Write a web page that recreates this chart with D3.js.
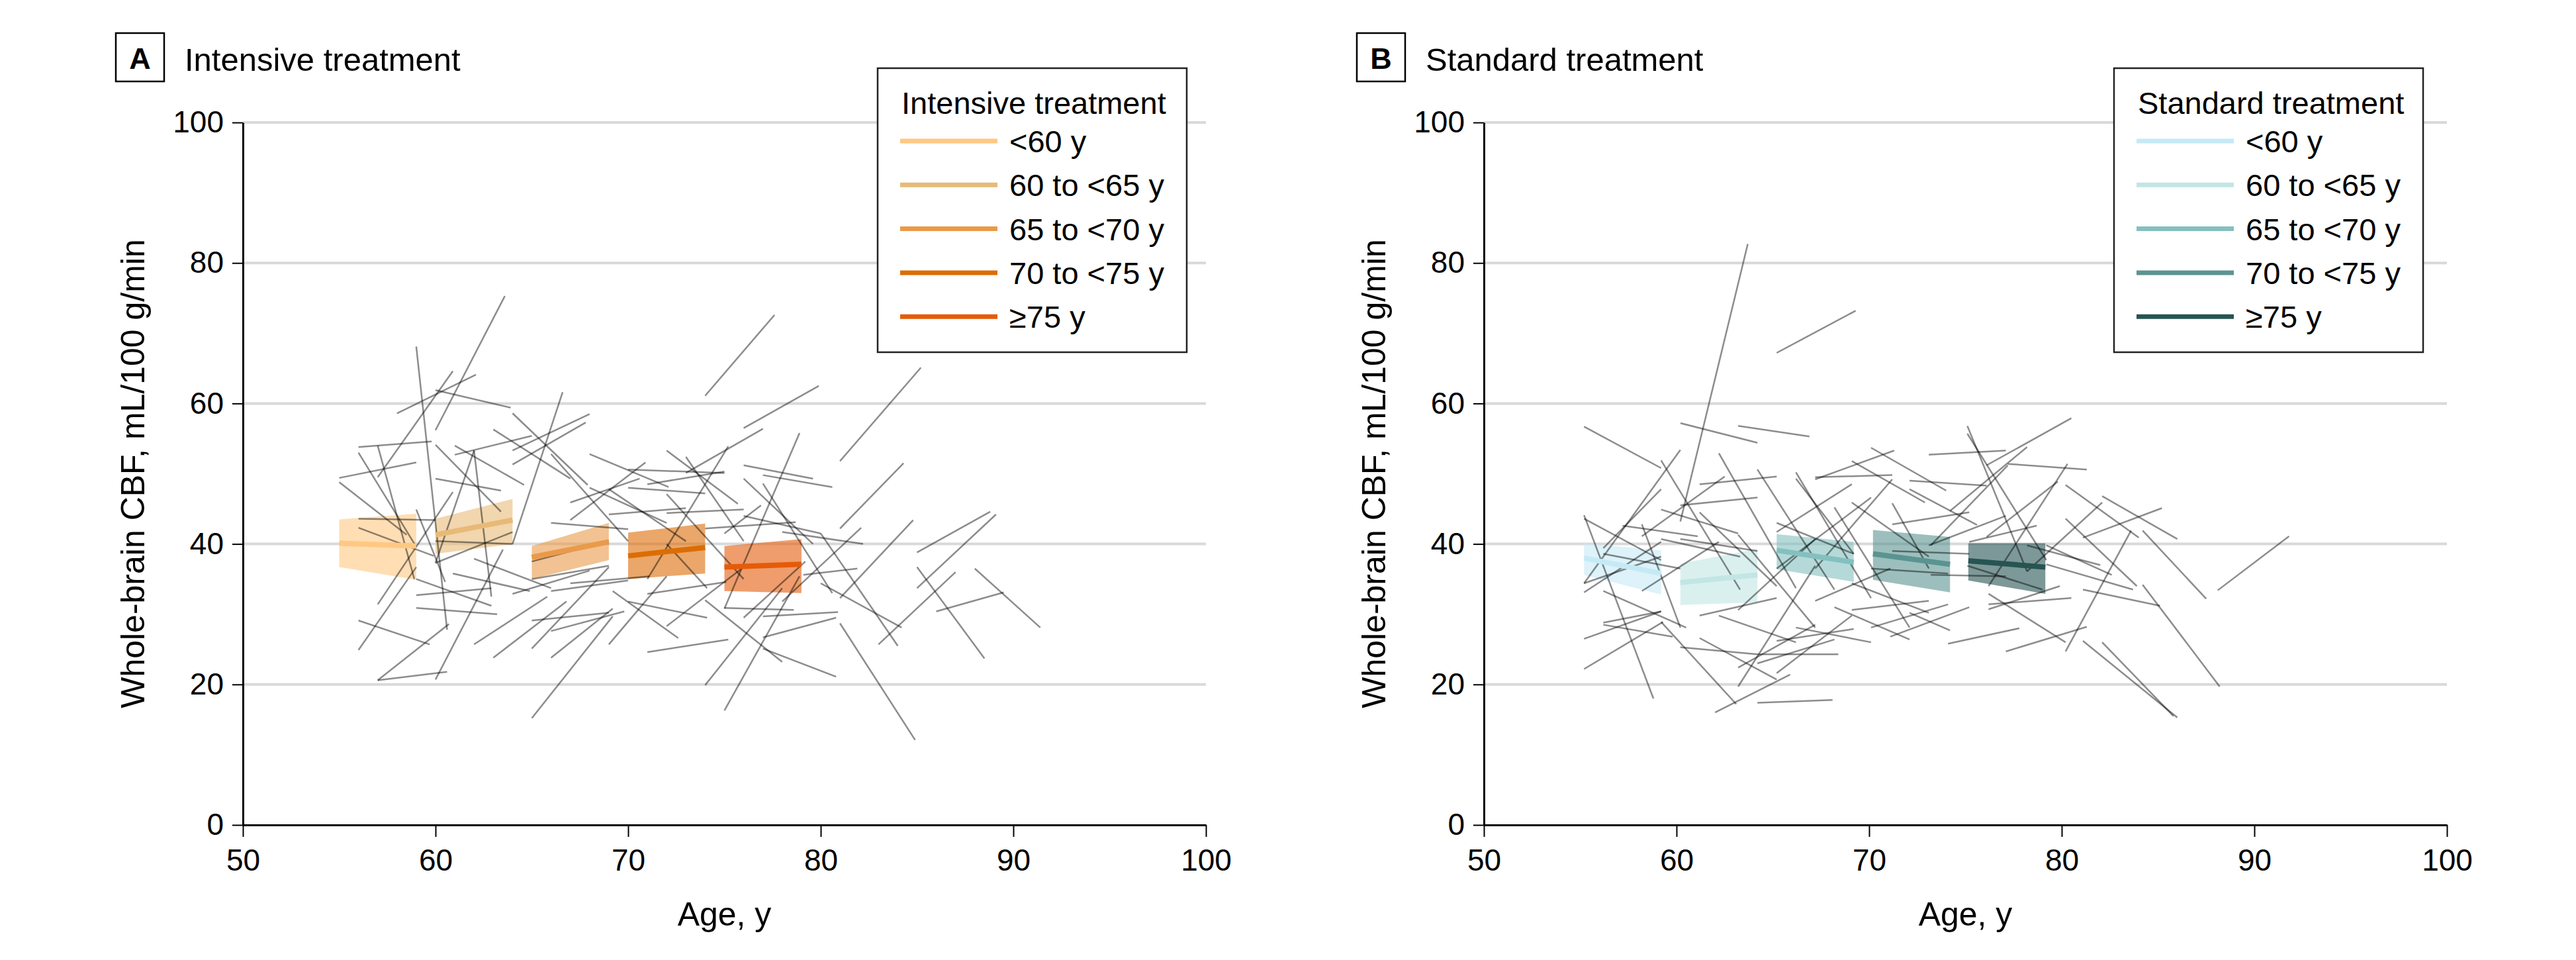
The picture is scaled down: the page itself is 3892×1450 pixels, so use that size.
<!DOCTYPE html>
<html>
<head>
<meta charset="utf-8">
<script src="https://cdn.jsdelivr.net/npm/d3@7"></script>
<style>
    body { margin: 0; background: #fff; }
    text { font-family: "Liberation Sans", Arial, sans-serif; fill: #000; }
</style>
</head>
<body>
<svg id="chart"></svg>
<script>
// age groups shown in both legends
let ageGroups = ["<60 y", "60 to <65 y", "65 to <70 y", "70 to <75 y", "\u226575 y"];
let xTicks = [50, 60, 70, 80, 90, 100];
let yTicks = [0, 20, 40, 60, 80, 100];

// fitted line + CI band per age group: [age0, age1, fit0, fit1, lo0, lo1, hi0, hi1]
let intensiveFits = [
    [55.0, 59.0, 40.1, 39.7, 36.7, 34.9, 43.5, 44.3],
    [60.0, 64.0, 41.3, 43.4, 38.6, 40.0, 43.6, 46.4],
    [65.0, 69.0, 38.1, 40.3, 35.0, 37.7, 39.7, 43.0],
    [70.0, 74.0, 38.3, 39.5, 35.0, 35.8, 41.6, 42.9],
    [75.0, 79.0, 36.7, 37.1, 33.3, 33.0, 39.7, 40.7]
];
let standardFits = [
    [55.2, 59.2, 38.0, 35.8, 35.6, 32.8, 40.1, 39.1],
    [60.2, 64.2, 34.5, 35.6, 31.3, 31.7, 37.2, 39.3],
    [65.2, 69.2, 39.1, 37.4, 36.4, 34.6, 41.4, 40.3],
    [70.2, 74.2, 38.6, 37.1, 34.9, 33.1, 42.0, 41.0],
    [75.15, 79.15, 37.6, 36.7, 34.8, 32.9, 40.1, 40.1]
];

// individual participants: [baseline age, baseline CBF, follow-up age, follow-up CBF]
let intensiveSubjects = [
    [60.0, 56.2, 63.6, 75.3], [59.0, 68.1, 60.6, 27.8], [57.0, 49.5, 60.9, 64.6], [58.0, 58.6, 62.1, 64.1],
    [60.0, 61.9, 63.9, 59.4], [74.0, 61.1, 77.6, 72.6], [64.0, 40.0, 66.6, 61.6], [56.0, 53.8, 59.8, 54.6],
    [55.0, 49.4, 59.0, 51.6], [57.0, 54.0, 58.9, 35.0], [56.0, 53.0, 59.0, 39.6], [55.0, 48.8, 58.5, 41.3],
    [60.0, 54.1, 63.4, 44.6], [60.0, 49.3, 63.4, 47.6], [61.0, 54.0, 64.6, 48.4], [61.0, 52.7, 65.0, 55.4],
    [60.0, 37.3, 62.0, 53.3], [62.0, 53.3, 62.9, 32.5], [63.0, 56.3, 67.0, 49.3], [64.0, 58.6, 67.9, 48.4],
    [64.0, 53.3, 68.0, 58.5], [64.0, 51.3, 67.8, 57.3], [68.0, 52.8, 72.1, 48.1], [70.0, 50.6, 75.0, 50.1],
    [71.0, 48.5, 75.0, 50.3], [72.0, 53.3, 75.7, 45.7], [73.0, 50.1, 77.0, 56.4], [73.0, 52.4, 76.0, 40.4],
    [71.0, 35.0, 75.2, 53.9], [72.0, 47.1, 76.0, 35.0], [69.0, 47.8, 73.0, 40.4], [67.0, 45.9, 70.6, 49.3],
    [67.0, 43.4, 70.9, 51.6], [66.0, 52.8, 70.0, 40.4], [76.0, 51.2, 79.6, 49.3], [76.0, 49.3, 79.6, 40.0],
    [77.0, 48.6, 80.6, 33.0], [70.0, 48.0, 74.0, 47.2], [68.0, 48.0, 72.0, 43.0], [69.0, 44.2, 73.0, 45.1],
    [66.0, 43.0, 70.0, 42.1], [59.0, 35.0, 62.9, 31.2], [59.0, 32.7, 62.9, 33.7], [59.0, 30.9, 63.2, 30.0],
    [60.0, 37.3, 64.0, 41.7], [60.0, 20.7, 63.5, 39.2], [62.0, 25.7, 65.8, 32.5], [63.0, 23.8, 66.8, 31.8],
    [65.0, 25.1, 69.0, 36.7], [66.0, 23.8, 69.2, 30.8], [65.0, 29.1, 69.0, 30.2], [66.0, 27.6, 69.8, 30.4],
    [65.0, 37.5, 69.0, 40.4], [65.0, 35.0, 69.0, 36.9], [66.0, 33.3, 70.0, 34.8], [69.0, 25.7, 72.0, 35.4],
    [70.0, 31.8, 74.1, 29.5], [71.0, 32.9, 75.1, 34.6], [71.0, 24.6, 75.2, 26.4], [72.0, 28.3, 76.0, 36.7],
    [72.0, 40.0, 74.1, 33.7], [72.0, 44.4, 76.0, 44.9], [74.0, 19.9, 78.0, 33.7], [75.0, 16.3, 78.9, 35.4],
    [65.0, 15.2, 69.2, 29.7], [69.2, 33.3, 72.6, 26.6], [76.0, 29.5, 79.2, 37.5], [67.0, 34.4, 71.1, 35.4],
    [64.0, 32.9, 68.0, 36.2], [62.0, 37.9, 66.0, 33.7], [60.9, 35.8, 64.9, 33.3], [60.0, 40.4, 64.0, 40.0],
    [56.0, 43.6, 60.0, 43.4], [56.0, 42.3, 59.9, 38.3], [57.0, 20.6, 60.7, 28.6], [57.0, 20.6, 60.6, 21.8],
    [56.0, 24.9, 59.0, 36.7], [56.0, 29.1, 59.7, 25.7], [57.0, 31.4, 60.9, 47.4], [59.0, 44.9, 60.5, 34.6],
    [76.0, 56.5, 79.9, 62.5], [81.0, 51.8, 85.2, 65.1], [81.0, 42.2, 84.3, 51.5], [77.0, 49.8, 80.6, 48.1],
    [75.0, 30.8, 78.9, 55.8], [76.0, 44.0, 80.0, 41.5], [74.0, 42.2, 78.7, 43.1], [75.0, 41.5, 76.9, 45.5],
    [80.0, 41.5, 84.0, 25.5], [80.0, 34.4, 84.2, 28.1], [81.0, 28.7, 84.9, 12.1], [81.0, 32.3, 84.8, 43.4],
    [83.0, 25.7, 87.0, 36.0], [85.0, 38.8, 88.8, 44.6], [85.0, 33.7, 89.1, 44.2], [85.0, 36.7, 88.5, 23.7],
    [86.0, 30.4, 89.5, 33.1], [88.0, 36.5, 91.4, 28.1], [77.0, 26.7, 80.8, 29.5], [77.0, 29.7, 80.9, 30.3],
    [77.0, 25.1, 80.8, 21.1], [78.0, 31.8, 82.1, 42.3], [78.0, 41.7, 82.2, 40.0], [79.1, 35.6, 81.9, 36.5],
    [75.0, 30.9, 78.6, 30.6], [74.0, 32.0, 78.0, 23.2]
];
let standardSubjects = [
    [60.2, 43.2, 63.7, 82.7], [65.2, 67.2, 69.3, 73.2], [55.2, 56.7, 59.2, 50.8], [60.2, 57.2, 64.2, 54.4],
    [63.2, 56.8, 66.9, 55.3], [59.2, 51.9, 63.3, 33.5], [55.2, 34.4, 60.2, 53.4], [56.2, 39.4, 59.2, 47.8],
    [62.2, 52.9, 66.2, 33.7], [61.2, 48.5, 65.2, 49.6], [60.2, 45.5, 64.2, 46.6], [58.2, 41.1, 62.5, 49.6],
    [64.2, 50.6, 68.2, 33.5], [66.2, 50.2, 70.1, 32.3], [66.2, 49.3, 69.2, 38.6], [67.2, 49.5, 71.2, 49.8],
    [67.2, 49.2, 71.3, 53.3], [70.1, 53.7, 74.0, 47.6], [69.1, 51.8, 72.9, 45.9], [72.1, 49.0, 76.1, 48.3],
    [73.1, 52.7, 77.1, 53.3], [75.1, 56.8, 78.2, 36.1], [75.1, 55.7, 79.2, 37.7], [76.1, 51.2, 80.5, 57.9],
    [67.2, 36.5, 71.2, 49.2], [71.2, 45.8, 73.1, 36.5], [69.1, 45.9, 73.1, 38.2], [68.2, 45.2, 72.1, 28.1],
    [65.2, 41.7, 69.1, 48.5], [65.2, 43.0, 69.2, 38.6], [65.2, 36.5, 70.1, 46.6], [71.2, 42.8, 75.2, 44.5],
    [73.1, 39.8, 77.1, 44.0], [74.2, 44.7, 78.2, 53.8], [76.1, 41.0, 79.8, 48.9], [75.1, 36.9, 79.0, 33.5],
    [55.2, 43.6, 59.2, 37.7], [55.2, 44.1, 58.8, 18.0], [55.2, 34.4, 59.2, 38.2], [55.2, 33.1, 59.2, 40.3],
    [56.2, 38.6, 60.2, 36.5], [56.2, 33.3, 60.5, 28.1], [56.2, 28.8, 59.2, 30.4], [56.2, 28.5, 59.8, 26.8],
    [55.2, 26.5, 59.2, 30.4], [55.2, 22.2, 59.3, 28.9], [59.2, 28.9, 63.1, 17.2], [57.2, 42.6, 61.1, 41.1],
    [58.2, 42.8, 60.2, 28.1], [58.2, 33.3, 62.2, 40.3], [59.2, 44.9, 63.2, 41.5], [59.2, 40.7, 63.3, 38.2],
    [60.2, 25.3, 64.2, 24.3], [61.2, 26.6, 65.2, 20.7], [61.2, 29.8, 65.2, 32.3], [62.2, 29.8, 66.2, 26.0],
    [63.2, 19.7, 67.2, 36.9], [63.2, 22.4, 67.2, 28.5], [64.2, 24.3, 68.4, 24.3], [64.2, 23.0, 68.2, 26.4],
    [64.2, 17.4, 68.1, 17.8], [62.0, 16.0, 65.9, 21.4], [65.2, 21.6, 69.1, 29.8], [66.2, 28.1, 70.1, 26.0],
    [65.2, 26.2, 69.2, 27.9], [67.2, 31.9, 71.1, 36.5], [68.2, 31.0, 72.1, 26.4], [69.1, 30.6, 73.1, 31.9],
    [70.1, 28.1, 74.1, 31.4], [71.1, 26.8, 75.2, 31.0], [72.1, 30.2, 74.2, 27.7], [69.1, 34.4, 73.1, 30.2],
    [74.1, 25.8, 77.8, 28.0], [77.1, 24.7, 81.3, 28.2], [76.2, 31.4, 80.5, 32.3], [63.2, 30.6, 67.2, 40.7],
    [61.2, 44.5, 65.2, 34.0], [63.2, 41.3, 67.2, 28.1], [60.2, 40.7, 64.2, 39.0], [70.1, 36.5, 74.1, 35.8],
    [71.2, 39.0, 75.2, 38.6], [77.2, 51.4, 81.3, 50.6], [73.2, 39.8, 77.2, 51.2], [72.1, 47.8, 75.6, 42.7],
    [76.2, 34.0, 80.3, 51.4], [75.2, 40.3, 78.7, 42.6], [80.2, 48.4, 84.0, 40.9], [82.1, 46.8, 86.0, 40.7],
    [81.1, 40.9, 85.2, 45.1], [80.2, 43.6, 83.9, 34.0], [78.2, 39.8, 82.0, 37.0], [78.2, 36.1, 82.1, 45.9],
    [79.2, 39.8, 82.6, 35.6], [79.2, 37.1, 83.7, 33.5], [84.2, 41.9, 87.5, 32.2], [88.1, 33.4, 91.8, 41.1],
    [80.2, 24.7, 83.6, 41.9], [81.1, 33.5, 85.1, 31.2], [84.2, 34.2, 88.2, 19.7], [81.1, 26.2, 86.0, 15.3],
    [82.1, 26.0, 85.8, 15.5], [76.2, 32.9, 80.2, 26.0], [76.2, 30.7, 79.9, 34.0], [73.2, 35.6, 77.1, 35.4]
];

let intensiveColors = ["#FFC882", "#E8BA78", "#E99A4A", "#DC6D05", "#E55B0A"];
let standardColors = ["#C6EAF5", "#C2E6E4", "#84C0BF", "#5A9491", "#265453"];

let W = 3892, H = 1450;
let plotLeft = 367, plotRight = 1822, plotTop = 185, plotBottom = 1246;

let svg = d3.select('#chart')
    .attr('width', W)
    .attr('height', H);

function drawPanel(dx, letter, title, fits, subjects, colors, legendDx) {

    let g = svg.append('g')
        .attr('transform', 'translate(' + dx + ',0)');

    let xScale = d3.scaleLinear().domain([50, 100]).range([plotLeft, plotRight]);
    let yScale = d3.scaleLinear().domain([0, 100]).range([plotBottom, plotTop]);

    //gridlines
    g.selectAll('.grid')
        .data(yTicks.filter(d => d > 0))
        .enter()
        .append('line')
        .attr('x1', plotLeft)
        .attr('x2', plotRight)
        .attr('y1', d => yScale(d))
        .attr('y2', d => yScale(d))
        .attr('stroke', '#d9d9d9')
        .attr('stroke-width', 4);

    //CI bands
    g.selectAll('.band')
        .data(fits)
        .enter()
        .append('path')
        .attr('d', d => 'M' + xScale(d[0]) + ',' + yScale(d[6])
            + 'L' + xScale(d[1]) + ',' + yScale(d[7])
            + 'L' + xScale(d[1]) + ',' + yScale(d[5])
            + 'L' + xScale(d[0]) + ',' + yScale(d[4]) + 'Z')
        .attr('fill', (d, i) => colors[i])
        .attr('fill-opacity', 0.6);

    //participant trajectories
    g.selectAll('.subject')
        .data(subjects)
        .enter()
        .append('line')
        .attr('x1', d => xScale(d[0]))
        .attr('y1', d => yScale(d[1]))
        .attr('x2', d => xScale(d[2]))
        .attr('y2', d => yScale(d[3]))
        .attr('stroke', '#000')
        .attr('stroke-opacity', 0.45)
        .attr('stroke-width', 2.5);

    //fitted lines
    g.selectAll('.fit')
        .data(fits)
        .enter()
        .append('line')
        .attr('x1', d => xScale(d[0]))
        .attr('y1', d => yScale(d[2]))
        .attr('x2', d => xScale(d[1]))
        .attr('y2', d => yScale(d[3]))
        .attr('stroke', (d, i) => colors[i])
        .attr('stroke-width', 8);

    //y-axis
    let yAxis = g.append('g')
        .attr('transform', 'translate(' + plotLeft + ',0)')
        .call(d3.axisLeft(yScale).tickValues(yTicks).tickSize(16).tickSizeOuter(0).tickPadding(13));

    //x-axis
    let xAxis = g.append('g')
        .attr('transform', 'translate(0,' + plotBottom + ')')
        .call(d3.axisBottom(xScale).tickValues(xTicks).tickSize(18).tickSizeOuter(0).tickPadding(18));

    [yAxis, xAxis].forEach(a => {
        a.select('.domain').attr('stroke-width', 3);
        a.selectAll('.tick line').attr('stroke-width', 2);
        a.selectAll('.tick text')
            .style('font-family', '"Liberation Sans", Arial, sans-serif')
            .style('font-size', '46px');
    });

    //y-axis title
    g.append('text')
        .attr('transform', 'rotate(-90)')
        .attr('x', -(plotTop + plotBottom) / 2)
        .attr('y', 218)
        .style('text-anchor', 'middle')
        .style('font-size', '50px')
        .text('Whole-brain CBF, mL/100 g/min');

    //x-axis title
    g.append('text')
        .attr('x', (plotLeft + plotRight) / 2)
        .attr('y', 1398)
        .style('text-anchor', 'middle')
        .style('font-size', '50px')
        .text('Age, y');

    //panel letter + title
    g.append('rect')
        .attr('x', 175)
        .attr('y', 50)
        .attr('width', 73)
        .attr('height', 73)
        .attr('fill', 'none')
        .attr('stroke', '#000')
        .attr('stroke-width', 2.5);

    g.append('text')
        .attr('x', 211.5)
        .attr('y', 104)
        .style('text-anchor', 'middle')
        .style('font-size', '45px')
        .style('font-weight', 'bold')
        .text(letter);

    g.append('text')
        .attr('x', 279)
        .attr('y', 107)
        .style('font-size', '49px')
        .text(title);

    //legend
    let lg = g.append('g')
        .attr('transform', 'translate(' + legendDx + ',0)');

    lg.append('rect')
        .attr('x', 1326)
        .attr('y', 103)
        .attr('width', 467)
        .attr('height', 429)
        .attr('fill', '#fff')
        .attr('stroke', '#222')
        .attr('stroke-width', 2.5);

    lg.append('text')
        .attr('x', 1362)
        .attr('y', 172)
        .style('font-size', '47px')
        .text(title);

    let item = lg.selectAll('.item')
        .data(ageGroups)
        .enter()
        .append('g')
        .attr('transform', (d, i) => 'translate(0,' + (213 + i * 66.3) + ')');

    item.append('line')
        .attr('x1', 1360)
        .attr('x2', 1507)
        .attr('stroke', (d, i) => colors[i])
        .attr('stroke-width', 7);

    item.append('text')
        .attr('x', 1525)
        .attr('y', 17)
        .style('font-size', '47px')
        .text(d => d);
}

drawPanel(0, 'A', 'Intensive treatment', intensiveFits, intensiveSubjects, intensiveColors, 0);
drawPanel(1875, 'B', 'Standard treatment', standardFits, standardSubjects, standardColors, -7);
</script>
</body>
</html>
